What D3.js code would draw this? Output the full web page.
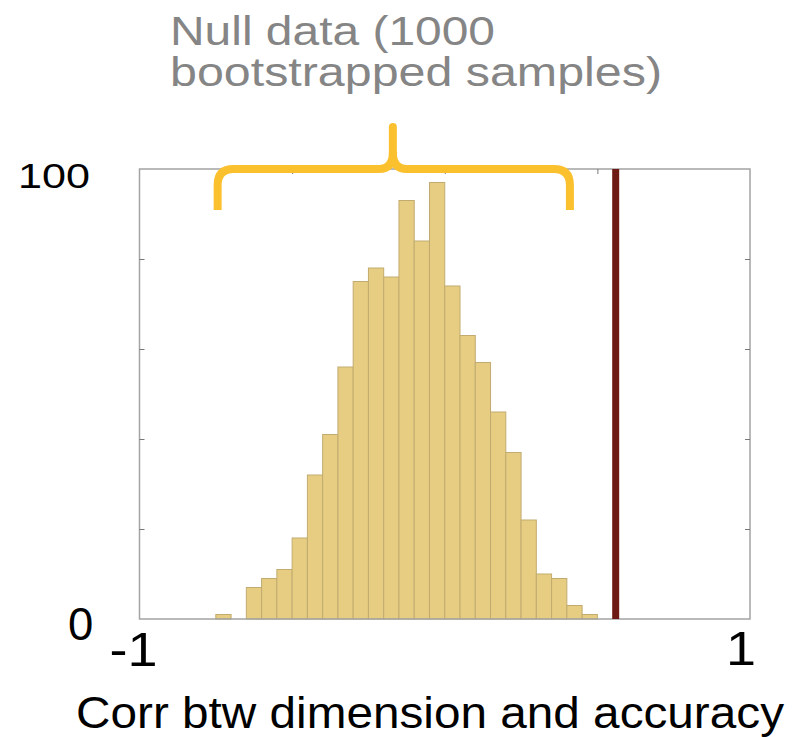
<!DOCTYPE html>
<html lang="en">
<head>
    <meta charset="utf-8">
    <title>Null distribution of corr btw dimension and accuracy</title>
    <script type="text/javascript" src="https://cdn.jsdelivr.net/npm/d3@7"></script>
    <style type="text/css">
        body { margin: 0; background: #fff; }
        text { font-family: "Liberation Sans", Arial, sans-serif; }
    </style>
</head>
<body>
    <script type="text/javascript">

        //Histogram bins (left edge, width 0.05) and counts of the 1000 bootstrapped samples
        var binStarts = [-0.75, -0.70, -0.65, -0.60, -0.55, -0.50, -0.45, -0.40, -0.35, -0.30,
                         -0.25, -0.20, -0.15, -0.10, -0.05, 0.00, 0.05, 0.10, 0.15, 0.20,
                         0.25, 0.30, 0.35, 0.40, 0.45];
        var binCounts = [1, 0, 7, 9, 11, 18, 32, 41, 56, 75,
                         78, 76, 93, 84, 97, 74, 63, 57, 46, 37,
                         22, 10, 9, 3, 1];
        var binWidth = 0.05;

        //Observed correlation
        var observed = 0.56;

        //Axis ranges and labels
        var xDomain = [-1, 1];
        var yDomain = [0, 100];
        var xTickLabels = ["-1", "1"];
        var yTickLabels = ["0", "100"];
        var yInnerTicks = [20, 40, 60, 80];
        var xInnerTicks = [-0.5, 0, 0.5];

        var titleLines = ["Null data (1000", "bootstrapped samples)"];
        var xTitle = "Corr btw dimension and accuracy";

        //Width and height
        var w = 807;
        var h = 737;
        var plot = { left: 139.5, right: 750, top: 169, bottom: 619 };

        var x = d3.scaleLinear().domain(xDomain).range([plot.left, plot.right]);
        var y = d3.scaleLinear().domain(yDomain).range([plot.bottom, plot.top]);

        var svg = d3.select("body")
            .append("svg")
            .attr("width", w)
            .attr("height", h);

        //Bars
        var bins = binStarts.map(function (s, i) { return { x0: s, x1: s + binWidth, n: binCounts[i] }; })
            .filter(function (d) { return d.n > 0; });

        svg.append("g")
            .selectAll("rect")
            .data(bins)
            .enter()
            .append("rect")
            .attr("x", function (d) { return x(d.x0); })
            .attr("y", function (d) { return y(d.n); })
            .attr("width", function (d) { return x(d.x1) - x(d.x0); })
            .attr("height", function (d) { return y(0) - y(d.n); })
            .style("fill", "#e6cd82")
            .style("stroke", "#c2ab70")
            .style("stroke-width", 1);

        //Box
        svg.append("rect")
            .attr("x", plot.left)
            .attr("y", plot.top)
            .attr("width", plot.right - plot.left)
            .attr("height", plot.bottom - plot.top)
            .style("fill", "none")
            .style("stroke", "#a3a3a3")
            .style("stroke-width", 1.5);

        //Inner ticks
        var tickStyle = function (g) {
            g.select(".domain").remove();
            g.selectAll("line").style("stroke", "#777");
        };
        svg.append("g").attr("transform", "translate(" + plot.left + ",0)")
            .call(d3.axisLeft(y).tickValues(yInnerTicks).tickSize(-5).tickFormat(""))
            .call(tickStyle);
        svg.append("g").attr("transform", "translate(" + plot.right + ",0)")
            .call(d3.axisRight(y).tickValues(yInnerTicks).tickSize(-5).tickFormat(""))
            .call(tickStyle);
        svg.append("g").attr("transform", "translate(0," + plot.top + ")")
            .call(d3.axisTop(x).tickValues(xInnerTicks).tickSize(-5).tickFormat(""))
            .call(tickStyle);

        //Observed value
        svg.append("line")
            .attr("x1", x(observed))
            .attr("x2", x(observed))
            .attr("y1", y(yDomain[1]))
            .attr("y2", y(0))
            .style("stroke", "#6e1a14")
            .style("stroke-width", 7);

        //Tick labels
        svg.append("text")
            .attr("x", 18).attr("y", 188)
            .attr("font-size", 35)
            .attr("textLength", 72).attr("lengthAdjust", "spacingAndGlyphs")
            .text(yTickLabels[1]);
        svg.append("text")
            .attr("x", 68).attr("y", 640)
            .attr("font-size", 45.5)
            .text(yTickLabels[0]);
        svg.append("text")
            .attr("x", 109.5).attr("y", 665.5)
            .attr("font-size", 49)
            .attr("textLength", 48).attr("lengthAdjust", "spacingAndGlyphs")
            .text(xTickLabels[0]);
        svg.append("text")
            .attr("x", 726).attr("y", 665)
            .attr("font-size", 48)
            .attr("textLength", 30).attr("lengthAdjust", "spacingAndGlyphs")
            .text(xTickLabels[1]);

        //X title
        svg.append("text")
            .attr("x", 76).attr("y", 728)
            .attr("font-size", 44)
            .attr("textLength", 708).attr("lengthAdjust", "spacingAndGlyphs")
            .text(xTitle);

        //Annotation
        var title = svg.append("g").style("fill", "#858585");
        title.append("text")
            .attr("x", 170).attr("y", 45)
            .attr("font-size", 40)
            .attr("textLength", 325).attr("lengthAdjust", "spacingAndGlyphs")
            .text(titleLines[0]);
        title.append("text")
            .attr("x", 170).attr("y", 86)
            .attr("font-size", 40)
            .attr("textLength", 492).attr("lengthAdjust", "spacingAndGlyphs")
            .text(titleLines[1]);

        //Brace over the null distribution
        var bx0 = x(-0.744), bx1 = x(0.41), bm = x(-0.17);
        var by = plot.top, bEnd = plot.top + 41, bTip = plot.top - 42, r = 16;
        var brace = d3.path();
        brace.moveTo(bx0, bEnd);
        brace.lineTo(bx0, by + r);
        brace.quadraticCurveTo(bx0, by, bx0 + r, by);
        brace.lineTo(bm - 14, by);
        brace.quadraticCurveTo(bm, by, bm, by - 16);
        brace.quadraticCurveTo(bm, by, bm + 14, by);
        brace.lineTo(bx1 - r, by);
        brace.quadraticCurveTo(bx1, by, bx1, by + r);
        brace.lineTo(bx1, bEnd);
        svg.append("path")
            .attr("d", brace.toString())
            .style("fill", "none")
            .style("stroke", "#fbc02d")
            .style("stroke-width", 8)
            .style("stroke-linejoin", "round");
        svg.append("line")
            .attr("x1", bm).attr("x2", bm)
            .attr("y1", by - 14).attr("y2", bTip)
            .style("stroke", "#fbc02d")
            .style("stroke-width", 8)
            .style("stroke-linecap", "round");

    </script>
</body>
</html>
